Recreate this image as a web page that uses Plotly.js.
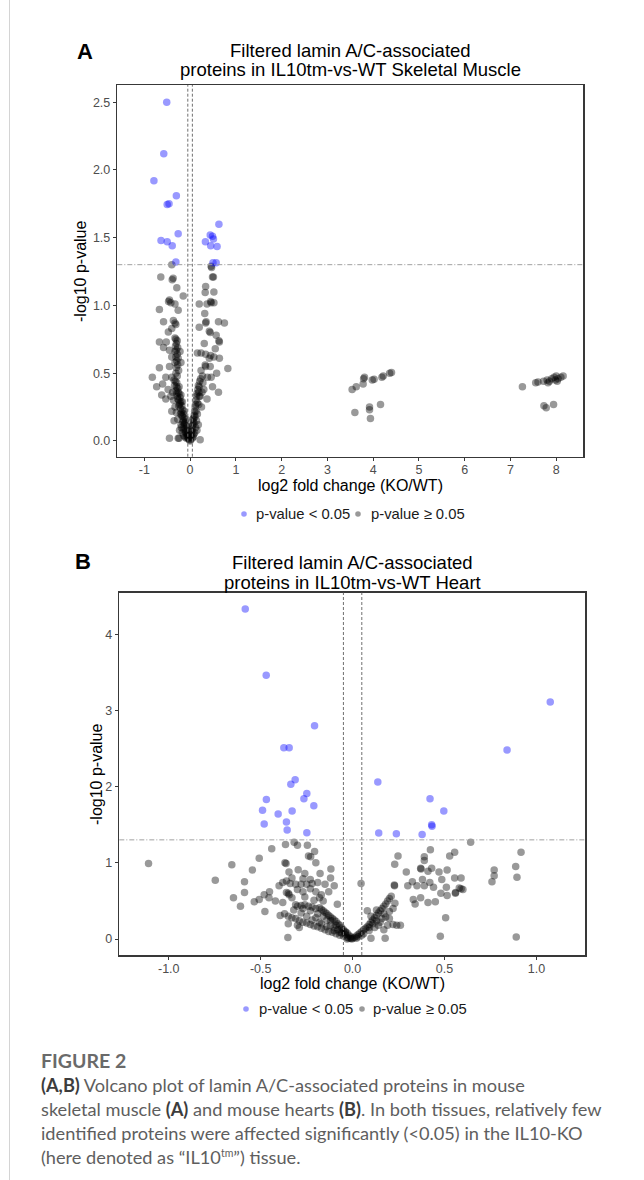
<!DOCTYPE html>
<html><head><meta charset="utf-8">
<script src="https://cdn.plot.ly/plotly-3.0.1.min.js"></script>
<style>
html,body{margin:0;padding:0;background:#fff;}
#wrap{position:relative;width:644px;height:1180px;overflow:hidden;background:#fff;}
#chart{position:absolute;left:0;top:0;width:644px;height:1180px;}
#rule{position:absolute;left:9px;top:0;width:1px;height:1180px;background:#d4d4d4;}
#caption{position:absolute;left:41px;top:1049px;font-family:Lato,'Open Sans',sans-serif;color:#5e5e5e;font-size:18.2px;line-height:24px;white-space:nowrap;}
#caption .fig{font-size:19.5px;font-weight:bold;color:#6a6a6a;}
#caption b{color:#3c3c3c;}
</style></head>
<body>
<div id="wrap">
<div id="chart"></div>
<div id="rule"></div>
<div id="caption">
<div class="fig">FIGURE 2</div>
<b>(A,B)</b> Volcano plot of lamin A/C-associated proteins in mouse<br>
skeletal muscle <b>(A)</b> and mouse hearts <b>(B)</b>. In both tissues, relatively few<br>
identified proteins were affected significantly (&lt;0.05) in the IL10-KO<br>
(here denoted as “IL10<sup style="font-size:10.5px;line-height:0">tm</sup>”) tissue.
</div>
</div>
<script>
// ---------------- data ----------------
const legendLabels = ['p-value < 0.05', 'p-value ≥ 0.05'];
const panelTitlesA = ['Filtered lamin A/C-associated', 'proteins in IL10tm-vs-WT Skeletal Muscle'];
const panelTitlesB = ['Filtered lamin A/C-associated', 'proteins in IL10tm-vs-WT Heart'];
const xLabel = 'log2 fold change (KO/WT)';
const yLabel = '-log10 p-value';
const pThreshold = 1.30103;
const fcThreshold = 0.05;

const aXTicks = [-1, 0, 1, 2, 3, 4, 5, 6, 7, 8];
const aXTickText = ['-1', '0', '1', '2', '3', '4', '5', '6', '7', '8'];
const aYTicks = [0, 0.5, 1, 1.5, 2, 2.5];
const aYTickText = ['0.0', '0.5', '1.0', '1.5', '2.0', '2.5'];
const bXTicks = [-1, -0.5, 0, 0.5, 1];
const bXTickText = ['-1.0', '-0.5', '0.0', '0.5', '1.0'];
const bYTicks = [0, 1, 2, 3, 4];

// Panel A significant (x = log2FC, y = -log10 p)
const aSignificant = [
 [-0.51,2.50],[-0.575,2.12],[-0.79,1.92],[-0.30,1.81],[-0.50,1.745],[-0.46,1.75],
 [-0.635,1.48],[-0.50,1.47],[-0.39,1.44],[-0.26,1.53],[-0.31,1.32],[0.63,1.60],
 [0.44,1.52],[0.49,1.51],[0.51,1.49],[0.335,1.47],[0.45,1.44],[0.59,1.435],
 [0.50,1.315],[0.57,1.315]
];
// Panel A not significant
const aNotSignificant = [
 [-0.40,1.30],[0.46,1.29],[0.47,1.28],[-0.64,1.21],[-0.39,1.19],[-0.37,1.20],[0.49,1.21],[0.51,1.21],
 [-0.29,1.13],[0.34,1.14],[-0.15,1.07],[0.52,1.10],[0.33,1.095],[-0.47,1.03],[-0.45,1.04],[-0.42,1.02],
 [-0.33,1.01],[0.45,1.03],[0.46,1.02],[0.52,1.02],[0.20,1.01],[0.37,1.01],[-0.67,0.97],[-0.26,0.965],
 [0.32,0.94],[-0.58,0.88],[-0.365,0.89],[-0.31,0.86],[-0.33,0.87],[0.34,0.87],[0.35,0.88],[0.62,0.88],
 [0.75,0.87],[-0.475,0.805],[-0.40,0.83],[0.20,0.84],[0.42,0.81],[0.44,0.80],[0.57,0.78],
 [-0.67,0.73],[-0.52,0.73],[-0.33,0.76],[-0.31,0.75],[-0.28,0.74],[-0.30,0.72],[-0.32,0.70],[-0.27,0.69],
 [-0.30,0.67],[-0.33,0.66],[-0.28,0.64],[-0.31,0.62],[-0.26,0.61],[-0.29,0.59],[-0.33,0.58],[-0.27,0.56],
 [-0.30,0.54],[-0.25,0.52],[-0.31,0.50],[-0.28,0.48],[-0.58,0.69],[-0.45,0.67],[-0.22,0.66],[-0.40,0.62],
 [-0.20,0.58],[-0.45,0.55],[-0.67,0.54],[-0.825,0.47],[-0.53,0.47],[-0.40,0.47],[0.31,0.72],[0.63,0.74],
 [0.64,0.73],[0.55,0.68],[0.16,0.65],[0.24,0.65],[0.34,0.64],[0.45,0.63],[0.52,0.62],[0.42,0.61],
 [0.64,0.61],[0.34,0.55],[0.33,0.56],[0.44,0.55],[0.825,0.535],[0.27,0.48],[0.38,0.47],[0.46,0.47],
 [0.24,0.52],[0.58,0.50],
 [-0.73,0.40],[-0.60,0.42],[-0.48,0.38],[-0.53,0.31],[-0.62,0.34],[-0.42,0.33],[0.20,0.40],[0.49,0.40],
 [0.62,0.36],[0.37,0.31],[0.30,0.38],[0.28,0.43],
 [-0.35,0.45],[-0.32,0.44],[-0.29,0.43],[-0.34,0.41],[-0.30,0.40],[-0.27,0.39],[-0.31,0.37],[-0.26,0.36],
 [-0.24,0.35],[-0.28,0.33],[-0.22,0.32],[-0.25,0.30],[-0.20,0.29],[-0.23,0.27],[-0.18,0.26],[-0.21,0.24],
 [-0.16,0.23],[-0.19,0.21],[-0.14,0.20],[-0.17,0.18],[-0.12,0.17],[-0.15,0.15],[-0.10,0.14],[-0.13,0.12],
 [-0.08,0.11],[-0.11,0.09],[-0.07,0.08],[-0.09,0.06],[-0.05,0.05],[-0.06,0.03],[-0.03,0.02],[-0.04,0.04],
 [-0.02,0.01],[-0.38,0.36],[-0.36,0.30],[-0.33,0.25],[-0.30,0.21],[-0.27,0.16],[-0.40,0.22],[-0.20,0.12],
 [-0.23,0.08],[-0.17,0.06],[-0.14,0.04],[-0.11,0.03],[-0.45,0.02],[-0.26,0.02],[-0.24,0.02],[-0.35,0.15],
 [-0.19,0.10],
 [-0.04,0.02],[-0.07,0.05],[-0.10,0.07],[-0.12,0.13],[-0.16,0.14],[-0.18,0.19],[-0.21,0.20],[-0.22,0.28],
 [-0.25,0.26],[-0.27,0.31],[-0.29,0.35],[-0.24,0.40],[-0.20,0.34],[-0.17,0.29],[-0.13,0.22],[-0.09,0.16],
 [-0.06,0.10],[-0.15,0.09],[-0.08,0.02],
 [0.00,0.00],[0.01,0.01],[0.02,0.03],[0.03,0.05],[0.04,0.07],[0.05,0.09],[0.06,0.12],[0.07,0.14],
 [0.08,0.17],[0.09,0.19],[0.10,0.22],[0.11,0.25],[0.12,0.27],[0.13,0.30],[0.14,0.33],[0.15,0.35],
 [0.17,0.38],[0.18,0.41],[0.21,0.44],[0.23,0.46],[0.08,0.05],[0.12,0.10],[0.16,0.20],[0.19,0.27],
 [0.22,0.33],[0.26,0.36],[0.22,0.01],[0.05,0.02],[0.10,0.06],[0.14,0.15],[0.25,0.25],[0.18,0.12],
 [0.02,0.07],[0.04,0.11],[0.06,0.16],[0.09,0.13],[0.11,0.18],[0.13,0.22],[0.16,0.28],[0.20,0.33],
 [0.07,0.03],[0.15,0.08],[0.19,0.36],
 [3.54,0.38],[3.63,0.40],[3.78,0.42],[3.79,0.46],[3.81,0.47],[3.98,0.45],[4.02,0.455],[4.19,0.47],
 [4.22,0.48],[4.36,0.50],[4.40,0.505],[3.60,0.21],[3.92,0.25],[3.92,0.23],[4.16,0.27],[3.94,0.165],
 [7.26,0.40],[7.55,0.43],[7.60,0.435],[7.72,0.44],[7.80,0.45],[7.82,0.43],[7.85,0.44],[7.90,0.46],
 [7.95,0.47],[7.98,0.45],[8.00,0.48],[8.02,0.44],[8.04,0.46],[8.10,0.47],[8.15,0.48],[7.73,0.26],
 [7.78,0.245],[7.94,0.27]
];

// Panel B significant
const bSignificant = [
 [-0.584,4.33],[-0.47,3.46],[-0.207,2.80],[-0.374,2.51],[-0.345,2.51],[-0.3125,2.09],[-0.336,2.03],
 [-0.249,1.91],[-0.469,1.83],[-0.265,1.84],[-0.211,1.75],[-0.49,1.69],[-0.329,1.68],[-0.405,1.64],
 [-0.36,1.535],[-0.481,1.51],[-0.356,1.43],[-0.249,1.395],
 [1.075,3.11],[0.84,2.48],[0.137,2.06],[0.421,1.84],[0.496,1.68],[0.43,1.50],[0.432,1.48],
 [0.142,1.39],[0.238,1.38],[0.378,1.37]
];
// Panel B not significant
const bNotSignificant = [
 [-1.11,0.99],[-0.747,0.77],[-0.657,0.975],[-0.508,1.06],[-0.545,0.905],[-0.44,1.185],[-0.588,0.75],
 [-0.588,0.61],[-0.648,0.54],[-0.61,0.43],[-0.535,0.49],[-0.508,0.52],[-0.481,0.58],[-0.452,0.62],
 [-0.455,0.54],[-0.477,0.36],
 [-0.365,1.24],[-0.318,1.27],[-0.30,1.23],[-0.246,1.23],[-0.207,1.15],[-0.24,1.09],[-0.228,1.08],
 [-0.20,1.00],[-0.368,1.00],[-0.362,0.99],[-0.346,0.88],[-0.296,0.91],[-0.26,0.86],[-0.177,0.86],
 [-0.118,0.92],[-0.12,0.80],
 [-0.38,0.74],[-0.36,0.76],[-0.34,0.73],[-0.31,0.72],[-0.28,0.72],[-0.25,0.72],[-0.22,0.73],[-0.19,0.74],
 [-0.15,0.72],[-0.36,0.61],[-0.35,0.60],[-0.345,0.58],[-0.38,0.48],[-0.394,0.31],[-0.083,0.455],
 [-0.352,0.02],[-0.29,0.15],
 [-0.33,0.80],[-0.30,0.65],[-0.27,0.62],[-0.23,0.66],[-0.20,0.62],[-0.17,0.58],[-0.13,0.62],[-0.10,0.70],
 [-0.23,0.78],[-0.27,0.79],[-0.21,0.51],[-0.18,0.54],[-0.16,0.50],[-0.26,0.55],[-0.33,0.54],[-0.40,0.70],
 [-0.42,0.50],
 [-0.31,0.45],[-0.28,0.44],[-0.26,0.45],[-0.24,0.43],[-0.22,0.42],[-0.20,0.40],[-0.18,0.41],[-0.17,0.39],
 [-0.16,0.37],[-0.15,0.35],[-0.14,0.33],[-0.13,0.31],[-0.12,0.29],[-0.11,0.27],[-0.10,0.25],[-0.09,0.23],
 [-0.08,0.20],[-0.07,0.18],[-0.06,0.15],[-0.05,0.12],[-0.04,0.10],[-0.03,0.08],[-0.02,0.05],[-0.01,0.03],
 [0.00,0.01],[-0.005,0.00],
 [-0.37,0.33],[-0.35,0.30],[-0.33,0.28],[-0.31,0.27],[-0.29,0.24],[-0.27,0.22],[-0.25,0.21],[-0.23,0.19],
 [-0.21,0.17],[-0.19,0.16],[-0.17,0.14],[-0.15,0.12],[-0.13,0.10],[-0.11,0.09],[-0.09,0.07],[-0.07,0.05],
 [-0.05,0.04],[-0.03,0.02],[-0.02,0.01],[-0.25,0.30],[-0.20,0.28],[-0.32,0.38],[-0.28,0.34],[-0.35,0.20],
 [-0.30,0.18],[-0.17,0.20],[-0.12,0.18],[-0.10,0.15],[-0.08,0.12],[-0.14,0.25],[-0.06,0.08],[-0.04,0.06],
 [-0.30,0.43],[-0.27,0.40],[-0.23,0.37],[-0.19,0.33],[-0.16,0.30],[-0.12,0.24],[-0.09,0.18],[-0.06,0.13],
 [-0.04,0.09],[-0.22,0.25],[-0.18,0.22],[-0.14,0.16],[-0.10,0.11],[-0.07,0.09],[-0.01,0.01],[-0.03,0.00],
 [0.642,1.27],[0.916,1.14],[0.887,0.95],[0.894,0.81],[0.77,0.905],[0.77,0.83],[0.758,0.75],[0.89,0.026],
 [0.477,0.035],[0.506,0.28],[0.559,0.60],[0.56,0.61],[0.555,1.14],[0.528,1.09],[0.423,1.17],[0.39,1.08],
 [0.39,1.03],[0.247,1.09],[0.229,0.98],[0.292,0.88],[0.37,0.93],[0.372,0.92],[0.41,0.89],[0.43,0.93],
 [0.47,0.88],[0.514,0.905],[0.555,0.80],[0.59,0.80],[0.325,0.75],[0.30,0.70],[0.35,0.70],[0.38,0.78],
 [0.39,0.70],[0.42,0.74],[0.44,0.68],[0.485,0.78],[0.51,0.68],[0.59,0.66],[0.58,0.67],[0.514,0.57],
 [0.33,0.52],[0.34,0.46],[0.41,0.48],[0.45,0.49],[0.227,0.71],[0.228,0.70],[0.046,0.73],[0.23,0.47],
 [0.177,0.01],[0.10,0.01],[0.48,0.60],[0.60,0.65],[0.37,0.54],[0.26,0.18],[0.24,0.18],
 [0.01,0.02],[0.02,0.04],[0.03,0.06],[0.04,0.08],[0.05,0.10],[0.06,0.12],[0.07,0.14],[0.08,0.16],
 [0.09,0.19],[0.10,0.22],[0.11,0.25],[0.12,0.28],[0.13,0.31],[0.14,0.34],[0.15,0.37],[0.16,0.40],
 [0.17,0.43],[0.18,0.46],[0.19,0.50],[0.20,0.53],[0.21,0.56],[0.16,0.27],[0.12,0.15],[0.14,0.18],
 [0.18,0.29],[0.20,0.36],[0.22,0.40],[0.08,0.37],[0.10,0.30],[0.13,0.38],[0.09,0.11],[0.15,0.22],
 [0.19,0.18],[0.20,0.27],[0.22,0.19],[0.17,0.12],[0.05,0.05],
 [0.03,0.03],[0.06,0.07],[0.09,0.15],[0.11,0.20],[0.13,0.24],[0.17,0.33],[0.02,0.01]
];

// ---------------- drawing ----------------
const W = 644, H = 1180;
const FONT = 'Liberation Sans, Arial, Helvetica, sans-serif';
const col = (arr, i) => arr.map(p => p[i]);
const px = v => v / W;          // pixel -> paper x
const py = v => 1 - v / H;      // pixel -> paper y

const blue = 'rgba(0,0,255,0.4)';
const grey = 'rgba(0,0,0,0.4)';
const mk = 7.5;

function pointsTrace(arr, name, color, xa, ya) {
  return {type:'scatter', mode:'markers', x:col(arr,0), y:col(arr,1), xaxis:xa, yaxis:ya,
    name:name, showlegend:false, marker:{color:color, size:mk, line:{width:0}}, hoverinfo:'skip'};
}

const data = [
  pointsTrace(aNotSignificant, legendLabels[1], grey, 'x', 'y'),
  pointsTrace(aSignificant, legendLabels[0], blue, 'x', 'y'),
  pointsTrace(bNotSignificant, legendLabels[1], grey, 'x2', 'y2'),
  pointsTrace(bSignificant, legendLabels[0], blue, 'x2', 'y2')
];

const axisBase = {showline:true, mirror:true, linecolor:'#383838', linewidth:1.5, ticks:'outside', ticklen:3,
  tickcolor:'#383838', tickwidth:1, showgrid:false, zeroline:false, fixedrange:true,
  tickfont:{family:FONT, size:12.5, color:'#4d4d4d'}};

const layout = {
  width:W, height:H, margin:{l:0,r:0,t:0,b:0}, paper_bgcolor:'#fff', plot_bgcolor:'#fff',
  font:{family:FONT, color:'#000'},
  showlegend:false,
  xaxis:Object.assign({}, axisBase, {domain:[px(117.3), px(583.3)], range:[-1.59, 8.59], tickvals:aXTicks, ticktext:aXTickText, anchor:'y', ticklabelstandoff:-2}),
  yaxis:Object.assign({}, axisBase, {domain:[py(456.7), py(85)], range:[-0.116, 2.627], tickvals:aYTicks, ticktext:aYTickText, anchor:'x'}),
  xaxis2:Object.assign({}, axisBase, {domain:[px(119.3), px(585)], range:[-1.269, 1.264], tickvals:bXTicks, ticktext:bXTickText, anchor:'y2', ticklabelstandoff:-2}),
  yaxis2:Object.assign({}, axisBase, {domain:[py(955), py(592.7)], range:[-0.21, 4.545], tickvals:bYTicks, anchor:'x2'}),
  shapes:[], annotations:[]
};

function addGuides(xr, yr) {
  [-fcThreshold, fcThreshold].forEach(v => layout.shapes.push({type:'line', xref:xr, yref:yr+' domain',
    x0:v, x1:v, y0:0, y1:1, line:{color:'#707070', width:1, dash:'3px,2px'}}));
  layout.shapes.push({type:'line', xref:xr+' domain', yref:yr, x0:0, x1:1, y0:pThreshold, y1:pThreshold,
    line:{color:'#a0a0a0', width:1, dash:'5px,2px,1px,2px'}});
}
addGuides('x', 'y');
addGuides('x2', 'y2');

function txt(text, x, y, size, opts) {
  layout.annotations.push(Object.assign({text:text, xref:'paper', yref:'paper', x:px(x), y:py(y),
    xanchor:'center', yanchor:'middle', showarrow:false, font:{family:FONT, size:size, color:'#000'}}, opts || {}));
}
// legend (key dots + labels)
function legendRow(yPix, dots, textStarts) {
  const colors = [blue, grey];
  for (let i = 0; i < 2; i++) {
    layout.shapes.push({type:'circle', xref:'paper', yref:'paper', xsizemode:'pixel', ysizemode:'pixel',
      xanchor:px(dots[i]), yanchor:py(yPix), x0:-2.8, x1:2.8, y0:-2.8, y1:2.8,
      fillcolor:colors[i], line:{width:0}});
    txt(legendLabels[i], textStarts[i], yPix, 14.8, {xanchor:'left', font:{family:FONT, size:14.8, color:'#1a1a1a'}});
  }
}
legendRow(514, [244, 358], [254, 369]);
legendRow(1009, [246, 362], [257, 371]);

// panel letters
txt('<b>A</b>', 85, 51, 22);
txt('<b>B</b>', 83, 562, 22);
// titles
txt(panelTitlesA[0], 350, 50, 18.5);
txt(panelTitlesA[1], 350, 69.5, 18.5);
txt(panelTitlesB[0], 352, 562.5, 18.5);
txt(panelTitlesB[1], 352, 583, 18.5);
// axis titles
txt(xLabel, 350, 485, 16);
txt(xLabel, 352, 983, 16);
txt(yLabel, 80, 271, 16, {textangle:-90});
txt(yLabel, 96, 774, 16, {textangle:-90});

Plotly.newPlot('chart', data, layout, {displayModeBar:false, staticPlot:true});
</script>
</body></html>
